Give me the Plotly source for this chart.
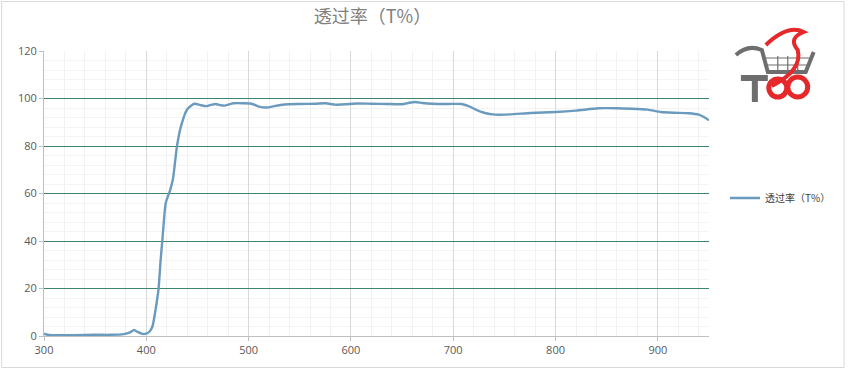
import plotly.graph_objects as go

wavelength = [300, 305, 315, 330, 350, 365, 378, 384, 388, 392, 396, 400, 403, 406,
              409, 412, 414, 416, 419, 423, 426, 430, 434, 440, 447, 453, 459, 464,
              468, 472, 477, 485, 495, 503, 510, 518, 525, 535, 550, 565, 575, 585,
              595, 605, 620, 635, 650, 657, 663, 670, 680, 695, 708, 715, 722, 730,
              741, 755, 776, 800, 820, 842, 860, 874, 890, 903, 915, 930, 940, 945, 950]
transmittance = [1.0, 0.4, 0.3, 0.3, 0.5, 0.5, 0.8, 1.5, 2.5, 1.6, 0.9, 1.0, 1.8, 4.0,
                 11, 20, 32, 42, 56, 61, 66, 80, 88.5, 95.5, 97.8, 97.2, 96.8, 97.4,
                 97.7, 97.2, 97.0, 98.0, 98.0, 97.8, 96.6, 96.2, 96.8, 97.5, 97.7, 97.8, 98.0,
                 97.4, 97.6, 97.9, 97.8, 97.7, 97.6, 98.2, 98.5, 98.1, 97.8, 97.7, 97.7, 96.8,
                 95.3, 94.0, 93.2, 93.3, 93.9, 94.3, 94.9, 95.9, 95.9, 95.7, 95.3, 94.3,
                 94.0, 93.8, 93.2, 92.2, 90.8]

x_ticks = [300, 400, 500, 600, 700, 800, 900]
y_ticks = [0, 20, 40, 60, 80, 100, 120]
series_name = "透过率（T%）"
title_text = "透过率（T%）"

W, H = 848, 369
L, R, T, B = 44, 137, 51, 33
PW, PH = W - L - R, H - T - B


def px(x):
    return (x - L) / PW


def py(y):
    return (H - B - y) / PH


fig = go.Figure()
fig.add_trace(go.Scatter(
    x=wavelength, y=transmittance, mode="lines", name=series_name,
    line=dict(color="#6a9bbf", width=2.4, shape="spline", smoothing=0.6),
))

shapes = [
    dict(type="rect", xref="paper", yref="paper", x0=px(1.5), x1=px(846.5),
         y0=py(367.5), y1=py(1.5), line=dict(color="#d9d9d9", width=1), layer="below"),
]
# simplified logo: cart, swoosh and rings
logo_grey = "#6e6e6e"
logo_red = "#e5282a"
shapes += [
    dict(type="path", xref="paper", yref="paper",
         path=f"M {px(738)},{py(55)} Q {px(750)},{py(44)} {px(764)},{py(50)} L {px(770)},{py(72)} L {px(808)},{py(72)} L {px(816)},{py(52)}",
         line=dict(color=logo_grey, width=4)),
    dict(type="path", xref="paper", yref="paper",
         path=f"M {px(768)},{py(58)} L {px(812)},{py(58)} M {px(769)},{py(65)} L {px(810)},{py(65)} M {px(780)},{py(56)} L {px(780)},{py(72)} M {px(790)},{py(56)} L {px(790)},{py(72)} M {px(800)},{py(56)} L {px(800)},{py(72)}",
         line=dict(color=logo_grey, width=1.2)),
    dict(type="path", xref="paper", yref="paper",
         path=f"M {px(768)},{py(45)} Q {px(790)},{py(24)} {px(806)},{py(32)} Q {px(790)},{py(38)} {px(800)},{py(50)} Q {px(805)},{py(70)} {px(774)},{py(86)}",
         line=dict(color=logo_red, width=4)),
    dict(type="path", xref="paper", yref="paper",
         path=f"M {px(743)},{py(78)} L {px(770)},{py(78)} M {px(757)},{py(78)} L {px(757)},{py(102)}",
         line=dict(color=logo_grey, width=6)),
    dict(type="circle", xref="paper", yref="paper", x0=px(771), x1=px(789),
         y0=py(97), y1=py(79), line=dict(color=logo_red, width=5)),
    dict(type="circle", xref="paper", yref="paper", x0=px(790), x1=px(810),
         y0=py(97), y1=py(77), line=dict(color=logo_red, width=5)),
]

fig.update_layout(
    width=W, height=H,
    margin=dict(l=L, r=R, t=T, b=B),
    paper_bgcolor="white", plot_bgcolor="white",
    font=dict(family="Open Sans, Noto Sans CJK SC, sans-serif", color="#595959", size=11),
    title=dict(text=title_text, x=px(337), xanchor="center", y=1 - 17 / H, yanchor="middle",
               font=dict(family="Noto Sans CJK SC, sans-serif", size=18, color="#808080")),
    showlegend=True,
    legend=dict(x=px(727), y=py(198), xanchor="left", yanchor="middle",
                font=dict(family="Noto Sans CJK SC, sans-serif", size=10, color="#404040"),
                bgcolor="rgba(0,0,0,0)", itemwidth=30),
    xaxis=dict(range=[300, 950], tickvals=x_ticks, ticktext=[str(v) for v in x_ticks],
               showgrid=True, gridcolor="#d9d9d9", gridwidth=1,
               minor=dict(dtick=20, showgrid=True, gridcolor="#f1f1f1", gridwidth=1),
               showline=True, linecolor="#bfbfbf", linewidth=1,
               ticks="outside", ticklen=4, tickcolor="#bfbfbf", zeroline=False,
               tickfont=dict(size=11, color="#595959")),
    yaxis=dict(range=[0, 120], tickvals=y_ticks, ticktext=[str(v) for v in y_ticks],
               showgrid=True, gridcolor="#3d8570", gridwidth=1,
               minor=dict(dtick=4, showgrid=True, gridcolor="#f3f3f3", gridwidth=1),
               showline=True, linecolor="#bfbfbf", linewidth=1,
               ticks="outside", ticklen=4, tickcolor="#bfbfbf", zeroline=False,
               tickfont=dict(size=11, color="#595959")),
    shapes=shapes,
)

fig.write_html("out.html")
